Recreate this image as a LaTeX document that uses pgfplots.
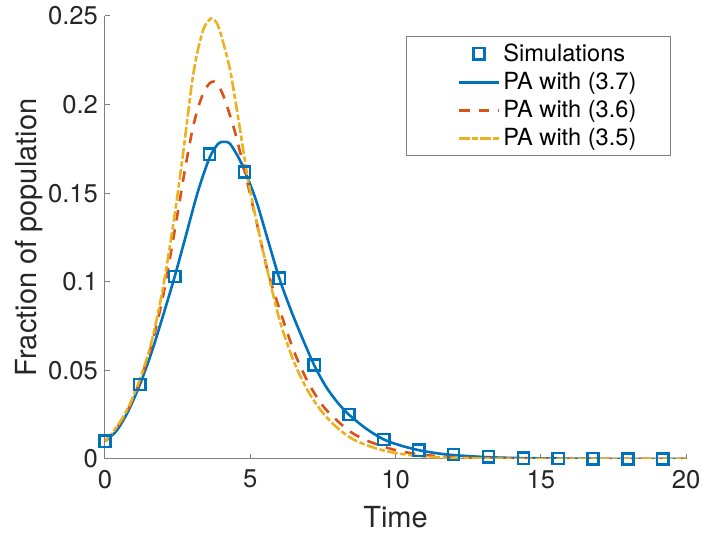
\documentclass[border=0pt]{standalone}
\usepackage{fontspec}
\setmainfont{TeX Gyre Heros}
\usepackage{pgfplots}
\pgfplotsset{compat=1.18}

\definecolor{mblue}{rgb}{0,0.447,0.741}
\definecolor{morange}{rgb}{0.85,0.325,0.098}
\definecolor{myellow}{rgb}{0.929,0.694,0.125}

% simulation points
\pgfplotstableread{
t     y
0     0.010
1.2   0.042
2.4   0.103
3.6   0.172
4.8   0.162
6.0   0.102
7.2   0.053
8.4   0.025
9.6   0.011
10.8  0.005
12.0  0.0025
13.2  0.0012
14.4  0.0005
15.6  0.0002
16.8  0.0001
18.0  0.0
19.2  0.0
}\sims

% PA with (3.7)
\pgfplotstableread{
t     y
0     0.010
0.4   0.016
0.8   0.027
1.2   0.042
1.6   0.060
2.0   0.081
2.4   0.103
2.8   0.127
3.2   0.151
3.6   0.170
3.9   0.178
4.1   0.179
4.3   0.178
4.6   0.170
4.8   0.163
5.2   0.146
5.6   0.124
6.0   0.102
6.4   0.084
6.8   0.068
7.2   0.053
7.6   0.041
8.0   0.032
8.4   0.025
9.0   0.017
9.6   0.011
10.2  0.0075
10.8  0.005
11.4  0.0033
12.0  0.0022
13.2  0.001
14.4  0.0005
16.0  0.0002
18.0  0.00005
20.0  0.0
}\paA

% PA with (3.6)
\pgfplotstableread{
t     y
0     0.010
0.4   0.0175
0.8   0.028
1.2   0.044
1.6   0.064
2.0   0.092
2.4   0.129
2.75  0.163
3.0   0.185
3.2   0.198
3.4   0.207
3.6   0.212
3.75  0.213
3.9   0.211
4.1   0.204
4.3   0.194
4.5   0.183
4.8   0.163
5.2   0.135
5.6   0.106
6.0   0.085
6.5   0.061
7.0   0.043
7.5   0.030
8.0   0.0215
8.5   0.0148
9.0   0.0105
9.5   0.0075
10.0  0.005
10.5  0.0034
11.0  0.0023
12.0  0.001
13.0  0.0004
14.0  0.00015
16.0  0.00002
20.0  0.0
}\paB

% PA with (3.5)
\pgfplotstableread{
t     y
0     0.010
0.4   0.018
0.8   0.029
1.2   0.045
1.6   0.066
2.0   0.097
2.4   0.138
2.7   0.174
3.0   0.213
3.2   0.231
3.4   0.243
3.6   0.248
3.7   0.2485
3.85  0.246
4.0   0.239
4.3   0.220
4.6   0.191
4.8   0.170
5.0   0.151
5.5   0.113
6.0   0.079
6.5   0.055
7.0   0.038
7.5   0.026
8.0   0.0175
8.5   0.0115
9.0   0.0078
9.5   0.0052
10.0  0.0034
10.7  0.0018
11.5  0.0009
12.5  0.0004
14.0  0.0001
16.0  0.00002
20.0  0.0
}\paC

\begin{document}
\begin{tikzpicture}
\begin{axis}[
    scale only axis,
    width=290.5pt, height=221.5pt,
    xmin=0, xmax=20, ymin=0, ymax=0.25,
    axis x line*=bottom, axis y line*=left,
    axis line style={-, black!50, line width=0.5pt},
    tick align=inside, major tick length=2.5pt,
    tick style={black!50, line width=0.5pt},
    xtick={0,5,10,15,20},
    ytick={0,0.05,0.1,0.15,0.2,0.25},
    scaled y ticks=false,
    yticklabel style={/pgf/number format/fixed, /pgf/number format/precision=2},
    /pgf/number format/assume math mode=true,
    tick label style={font=\fontsize{12.8}{14}\selectfont, text=black!85},
    xticklabel style={yshift=-2pt},
    xlabel=Time, ylabel=Fraction of population,
    label style={font=\fontsize{14.5}{16}\selectfont, text=black!85},
    xlabel style={at={([yshift=-29pt]axis description cs:0.5,0)}, anchor=center},
    ylabel style={at={([xshift=-38pt]axis description cs:0,0.5)}, anchor=center},
    % extra room left of the legend line, as in the reference
    legend image code/.code={\path (-10.5pt,0pt); \draw[mark repeat=2,mark phase=2,#1] plot coordinates {(0pt,0pt) (10pt,0pt) (20pt,0pt)};},
    legend cell align=left,
    legend style={at={(axis description cs:0.974,0.9549)}, anchor=north east,
        draw=black!50, line width=0.5pt, fill=white,
        font=\fontsize{11.8}{13}\selectfont,
        inner xsep=15pt, inner ysep=1.5pt, row sep=0pt, column sep=-0.5pt},
]
\addplot[only marks, mark=square, color=mblue, mark size=2.8pt, mark options={line width=1.2pt, solid}] table {\sims};
\addplot[color=mblue, line width=1.3pt, smooth] table {\paA};
\addplot[color=morange, line width=1.3pt, smooth, dash pattern=on 5.3pt off 4.5pt] table {\paB};
\addplot[color=myellow, line width=1.3pt, smooth, dash pattern=on 5.3pt off 1.3pt on 2.7pt off 1.3pt] table {\paC};
\legend{Simulations, PA with (3.7), PA with (3.6), PA with (3.5)}
\end{axis}
\pgfresetboundingbox
\useasboundingbox (-52.5pt,-38pt) rectangle (298.5pt,229.5pt);
\end{tikzpicture}
\end{document}
